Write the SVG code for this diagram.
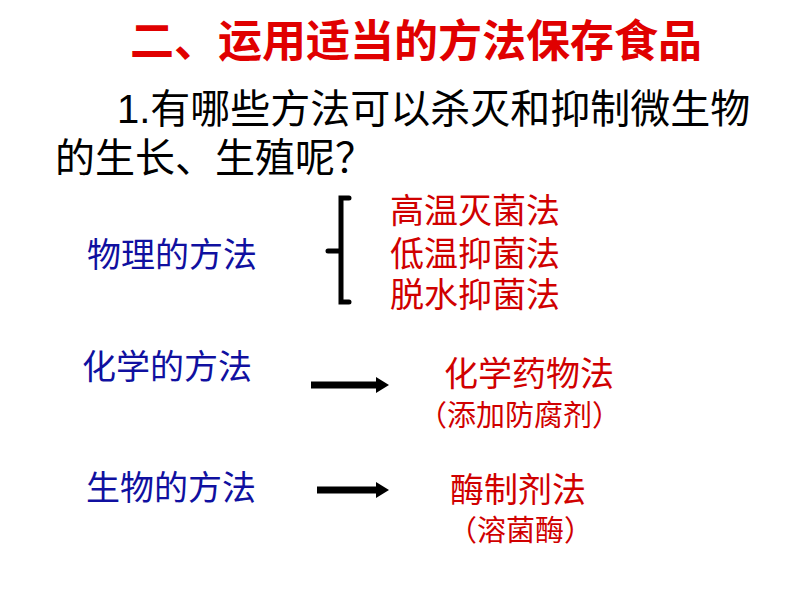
<svg xmlns="http://www.w3.org/2000/svg" width="794" height="596" viewBox="0 0 794 596">
<style>
text{font-family:"Liberation Sans","Noto Sans CJK SC",sans-serif}
.t{fill:#e00000;font-weight:bold;font-size:44px}
.q{fill:#000;font-size:40px}
.b{fill:#1010a0;font-size:34px}
.r{fill:#d00000;font-size:34px}
.s{fill:#d00000;font-size:29px}
.ln{stroke:#000;fill:none}
</style>
<rect width="794" height="596" fill="#fff"/>
<text class="t" x="416" y="57" text-anchor="middle">二、运用适当的方法保存食品</text>
<text class="q" x="117" y="123">1.有哪些方法可以杀灭和抑制微生物</text>
<text class="q" x="55" y="172">的生长、生殖呢？</text>
<g id="physical"><text class="b" x="87" y="267">物理的方法</text></g>
<g id="physical-items">
<text class="r" x="390" y="223">高温灭菌法</text>
<text class="r" x="390" y="266">低温抑菌法</text>
<text class="r" x="390" y="307">脱水抑菌法</text>
</g>
<g id="chemical"><text class="b" x="82" y="379">化学的方法</text></g>
<g id="chemical-item"><text class="r" x="444" y="386">化学药物法</text><text class="s" x="418" y="426">（添加防腐剂）</text></g>
<g id="bio"><text class="b" x="86" y="500">生物的方法</text></g>
<g id="bio-item"><text class="r" x="450" y="502">酶制剂法</text><text class="s" x="448" y="541">（溶菌酶）</text></g>
<g id="connectors">
<path class="ln" stroke-width="5" stroke-linecap="round" d="M349 198 H341 V302 H349 M328 251 H341"/>
<path class="ln" stroke-width="7" d="M311 385 H378"/>
<polygon points="376,377 389,385 376,393" fill="#000"/>
<path class="ln" stroke-width="7" d="M317 490 H378"/>
<polygon points="376,482 389,490 376,498" fill="#000"/>
</g>
</svg>
